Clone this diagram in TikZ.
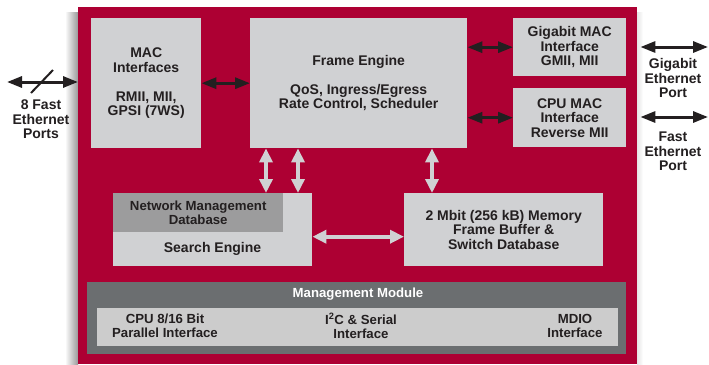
\documentclass[tikz,border=0pt]{standalone}
\usepackage{fontspec}
\setmainfont{Liberation Sans}
\usetikzlibrary{arrows.meta,positioning}
\definecolor{chipred}{HTML}{AD0033}
\definecolor{boxgray}{HTML}{D0D1D3}
\definecolor{nmdgray}{HTML}{9C9C9D}
\definecolor{mmgray}{HTML}{6B6E70}
\definecolor{innergray}{HTML}{CCCCCC}
\definecolor{txt}{HTML}{231F20}
\tikzset{
  box/.style={fill=boxgray, draw=none, anchor=north west, inner sep=0pt, align=center,
    text=txt, font=\bfseries\fontsize{14}{14.5}\selectfont},
  blk/.style={draw=txt, line width=3pt, {Triangle[length=15pt,width=11pt]}-{Triangle[length=15pt,width=11pt]}},
  lt/.style={draw=boxgray, line width=4pt, {Triangle[length=14pt,width=13pt]}-{Triangle[length=14pt,width=13pt]}},
  lbl/.style={align=center, text=txt, inner sep=0pt, font=\bfseries\fontsize{14}{14.5}\selectfont},
  small/.style={align=center, text=txt, inner sep=0pt, font=\bfseries\fontsize{13.2}{14.2}\selectfont}
}
\begin{document}
\begin{tikzpicture}[x=1pt,y=-1pt]
\useasboundingbox (0,0) rectangle (709,364);
\fill[white] (0,0) rectangle (709,364);
% shadow
\shade[left color=white, right color=black!40] (65,12) rectangle (78,364);
\shade[left color=black!10, right color=white] (637,12) rectangle (643,364);
% chip
\node[fill=chipred, anchor=north west, minimum width=559pt, minimum height=357pt, inner sep=0pt] (chip) at (78,7) {};
% boxes
\node[box, minimum width=110pt, minimum height=130pt] (mac) at (91,18)
  {MAC\\Interfaces\\[14.5pt]RMII, MII,\\GPSI (7WS)};
\node[box, minimum width=217pt, minimum height=130pt] (fe) at (250,18)
  {Frame Engine\\[14.5pt]QoS, Ingress/Egress\\Rate Control, Scheduler};
\node[box, minimum width=113pt, minimum height=58pt] (gig) at (513,18)
  {Gigabit MAC\\Interface\\GMII, MII};
\node[box, minimum width=113pt, minimum height=59pt] (cpu) at (513,88)
  {CPU MAC\\Interface\\Reverse MII};
\node[box, minimum width=199pt, minimum height=73pt] (se) at (113,193) {};
\node[fill=nmdgray, anchor=north west, inner sep=0pt, minimum width=170pt, minimum height=39pt] (nmd) at (113,193) {};
\node[small] (nmdt) at (nmd.center) {Network Management\\Database};
\node[lbl] (set) at (212.5,249) {Search Engine};
\node[box, minimum width=199pt, minimum height=73pt] (mem) at (404,193)
  {2 Mbit (256 kB) Memory\\Frame Buffer \&\\Switch Database};
% management module
\node[fill=mmgray, anchor=north west, inner sep=0pt, minimum width=539pt, minimum height=72pt] (mm) at (87,282) {};
\node[font=\bfseries\fontsize{13.2}{14}\selectfont, text=white, inner sep=0pt] (mmt) at (358,294) {Management Module};
\node[fill=innergray, anchor=north west, inner sep=0pt, minimum width=521pt, minimum height=38pt] (mmi) at (97,308) {};
\node[small] (cpuif) at (165,326) {CPU 8/16 Bit\\Parallel Interface};
\node[small] (i2c) at (361,326) {I\textsuperscript{2}C \& Serial\\Interface};
\node[small] (mdio) at (575,326) {MDIO\\Interface};
% black connectors
\draw[blk] (mac.east) -- (fe.west);
\draw[blk] (fe.east |- gig.west) -- (gig.west);
\draw[blk] (fe.east |- cpu.west) -- (cpu.west);
\coordinate (p8) at (7,82);
\draw[blk] (p8) -- (p8 -| chip.west);
\draw[txt, line width=2pt] (31,93) -- (53,70);
\coordinate (pg) at (708,47);
\coordinate (pf) at (708,117);
\draw[blk] ([xshift=3pt]chip.east |- pg) -- (pg);
\draw[blk] ([xshift=3pt]chip.east |- pf) -- (pf);
% port labels
\node[lbl] (l8) at (41,119.5) {8 Fast\\Ethernet\\Ports};
\node[lbl] (lg) at (673,78) {Gigabit\\Ethernet\\Port};
\node[lbl] (lf) at (673,151.5) {Fast\\Ethernet\\Port};
% light connectors
\draw[lt] ([xshift=16pt]fe.south west) -- ([xshift=16pt]fe.south west |- se.north);
\draw[lt] ([xshift=48pt]fe.south west) -- ([xshift=48pt]fe.south west |- se.north);
\draw[lt] ([xshift=182pt]fe.south west) -- ([xshift=182pt]fe.south west |- mem.north);
\draw[lt] ([yshift=-7pt]se.east) -- ([yshift=-7pt]mem.west);
\end{tikzpicture}
\end{document}
